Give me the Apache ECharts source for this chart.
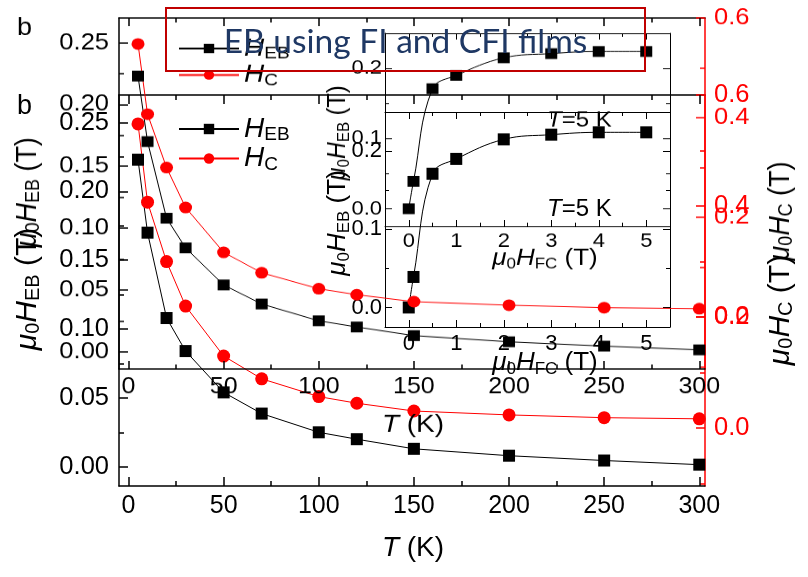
<!DOCTYPE html>
<html>
<head>
<meta charset="utf-8">
<script src="https://cdn.jsdelivr.net/npm/echarts@6/dist/echarts.min.js"></script>
<style>
  html, body { margin: 0; padding: 0; background: #ffffff; }
  #stage { position: relative; width: 808px; height: 577px; overflow: hidden; background: #ffffff; }
  .panel { position: absolute; left: 0; top: 0; width: 808px; height: 577px; }
  /* second copy of the panel, squeezed vertically into the upper part of the slide */
  #panelTop { transform-origin: 0 0; transform: translateY(-67.3px) scaleY(0.8977); }
  #slideTitle {
    position: absolute; left: 165px; top: 7px; width: 481px; height: 65px;
    box-sizing: border-box; border: 2px solid #c00000;
    display: flex; align-items: center; justify-content: center;
    font-family: Lato, 'Open Sans', sans-serif; font-size: 33.5px; color: #1f3864;
    white-space: nowrap;
  }
</style>
</head>
<body>
<div id="stage">
  <div id="panelBottom" class="panel"></div>
  <div id="panelTop" class="panel"></div>
  <div id="slideTitle">EB using FI and CFI films</div>
</div>
<script>
// Exchange bias field and coercivity versus temperature
const tempK   = [5, 10, 20, 30, 50, 70, 100, 120, 150, 200, 250, 300];
const hEB     = [0.223, 0.170, 0.108, 0.084, 0.054, 0.0386, 0.025, 0.020, 0.013, 0.008, 0.0045, 0.0015];
const hC      = [0.548, 0.407, 0.300, 0.220, 0.130, 0.089, 0.057, 0.045, 0.031, 0.024, 0.019, 0.017];

// Inset: exchange bias versus cooling field at T = 5 K
const fieldFC   = [0, 0.1, 0.5, 1, 2, 3, 4, 5];
const hEBField  = [0.0, 0.039, 0.171, 0.190, 0.215, 0.221, 0.224, 0.224];

// Tick values
const tempTicks   = [0, 50, 100, 150, 200, 250, 300];
const tempMinor   = [25, 75, 125, 175, 225, 275];
const hebTicks    = [0, 0.05, 0.10, 0.15, 0.20, 0.25];
const hebMinor    = [0.025, 0.075, 0.125, 0.175, 0.225];
const hcTicks     = [0, 0.2, 0.4, 0.6];
const hcMinor     = [-0.1, 0.1, 0.3, 0.5];
const fieldTicks  = [0, 1, 2, 3, 4, 5];
const fieldMinor  = [0.5, 1.5, 2.5, 3.5, 4.5];
const insetTicks  = [0, 0.1, 0.2];
const insetMinor  = [0.05, 0.15];

// Axis titles (rich text markup)
const titleTemp     = '{i|T}{n| (K)}';
const titleHEB      = '{i|μ}{s|0}{i|H}{s|EB}{n| (T)}';
const titleHC       = '{i|μ}{s|0}{i|H}{s|C}{n| (T)}';
const titleField    = '{i|μ}{s|0}{i|H}{s|FC}{n| (T)}';

const FONT = "'Liberation Sans', Arial, sans-serif";
const RED = '#ff0000';

// main glyphs set the line box; subscripts sit at its bottom edge
function richLabel(size, subSize, lineH) {
  return {
    i: { fontStyle: 'italic', fontSize: size, fontFamily: FONT, lineHeight: lineH, fill: '#000', color: '#000' },
    n: { fontSize: size, fontFamily: FONT, lineHeight: lineH, fill: '#000', color: '#000' },
    s: { fontSize: subSize, fontFamily: FONT, lineHeight: 10, verticalAlign: 'bottom', fill: '#000', color: '#000' }
  };
}

function tickAxis(o) {
  const color = o.color || '#000';
  const lw = o.lw || 1.5;
  return {
    type: 'value', gridIndex: o.grid, position: o.pos, min: o.min, max: o.max,
    axisLine: { show: !!o.line, onZero: false, lineStyle: { color: color, width: lw } },
    axisTick: { show: true, inside: true, length: o.len, customValues: o.ticks,
                lineStyle: { color: color, width: lw } },
    axisLabel: o.label
      ? Object.assign({ customValues: o.ticks, color: color, fontFamily: FONT }, o.label)
      : { show: false },
    splitLine: { show: false },
    axisPointer: { show: false }
  };
}

function axisTitle(text, x, y, size, subSize, vertical) {
  return {
    type: 'text', x: x, y: y, rotation: vertical ? Math.PI / 2 : 0, silent: true,
    style: { text: text, align: 'center', verticalAlign: 'middle',
             rich: richLabel(size, subSize, 30), fill: '#000' }
  };
}

function buildOption() {
  const xAxes = [];
  const yAxes = [];
  const add = (list, cfg) => { list.push(cfg); return list.length - 1; };

  // main panel (grid 0)
  const xMain = add(xAxes, tickAxis({
    grid: 0, pos: 'bottom', min: -5, max: 303, ticks: tempTicks, len: 9, line: true,
    label: { fontSize: 25, margin: 8, formatter: v => String(v) }
  }));
  add(xAxes, tickAxis({ grid: 0, pos: 'bottom', min: -5, max: 303, ticks: tempMinor, len: 5 }));
  add(xAxes, tickAxis({ grid: 0, pos: 'top', min: -5, max: 303, ticks: tempTicks, len: 9, line: true }));
  add(xAxes, tickAxis({ grid: 0, pos: 'top', min: -5, max: 303, ticks: tempMinor, len: 5 }));

  const yLeft = add(yAxes, tickAxis({
    grid: 0, pos: 'left', min: -0.014, max: 0.27, ticks: hebTicks, len: 9, line: true,
    label: { fontSize: 25.5, margin: 10, formatter: v => v.toFixed(2) }
  }));
  add(yAxes, tickAxis({ grid: 0, pos: 'left', min: -0.014, max: 0.27, ticks: hebMinor, len: 5 }));

  const yRight = add(yAxes, tickAxis({
    grid: 0, pos: 'right', min: -0.104, max: 0.6, ticks: hcTicks, len: 9, line: true, color: RED,
    label: { fontSize: 25.5, margin: 9, formatter: v => v.toFixed(1) }
  }));
  add(yAxes, tickAxis({ grid: 0, pos: 'right', min: -0.104, max: 0.6, ticks: hcMinor, len: 5, color: RED }));

  // inset panel (grid 1)
  const xInset = add(xAxes, tickAxis({
    grid: 1, pos: 'bottom', min: -0.5, max: 5.5, ticks: fieldTicks, len: 7, line: true, lw: 1,
    label: { fontSize: 22, margin: 6, formatter: v => String(v) }
  }));
  add(xAxes, tickAxis({ grid: 1, pos: 'bottom', min: -0.5, max: 5.5, ticks: fieldMinor, len: 4, lw: 1 }));
  add(xAxes, tickAxis({ grid: 1, pos: 'top', min: -0.5, max: 5.5, ticks: fieldTicks, len: 7, line: true, lw: 1 }));
  add(xAxes, tickAxis({ grid: 1, pos: 'top', min: -0.5, max: 5.5, ticks: fieldMinor, len: 4, lw: 1 }));

  const yInset = add(yAxes, tickAxis({
    grid: 1, pos: 'left', min: -0.025, max: 0.25, ticks: insetTicks, len: 7, line: true, lw: 1,
    label: { fontSize: 22, margin: 3, formatter: v => v.toFixed(1) }
  }));
  add(yAxes, tickAxis({ grid: 1, pos: 'left', min: -0.025, max: 0.25, ticks: insetMinor, len: 4, lw: 1 }));
  add(yAxes, tickAxis({ grid: 1, pos: 'right', min: -0.025, max: 0.25, ticks: insetTicks, len: 7, line: true, lw: 1 }));
  add(yAxes, tickAxis({ grid: 1, pos: 'right', min: -0.025, max: 0.25, ticks: insetMinor, len: 4, lw: 1 }));

  return {
    animation: false,
    backgroundColor: 'transparent',
    grid: [
      { left: 119, top: 95, width: 586, height: 391, outerBoundsMode: 'none', containLabel: false },
      { left: 385, top: 112, width: 285, height: 215, outerBoundsMode: 'none', containLabel: false }
    ],
    xAxis: xAxes,
    yAxis: yAxes,
    legend: {
      orient: 'vertical', left: 173, top: 110, itemWidth: 60, itemHeight: 13, itemGap: 0,
      data: ['HEB', 'HC'],
      formatter: n => n === 'HEB' ? '{i|H}{s|EB}' : '{i|H}{s|C}',
      textStyle: { color: '#000', rich: richLabel(28, 19, 31) }
    },
    graphic: [
      { type: 'text', left: 17, top: 93, style: { text: 'b', fontSize: 27, fontFamily: FONT, fill: '#000' } },
      { type: 'text', left: 547, top: 197,
        style: { text: '{i|T}{n|=5 K}', fill: '#000',
                 rich: { i: { fontStyle: 'italic', fontSize: 24, fontFamily: FONT },
                         n: { fontSize: 24, fontFamily: FONT } } } },
      axisTitle(titleTemp, 413, 548, 28, 19, false),
      axisTitle(titleHEB, 28, 289, 30, 20, true),
      axisTitle(titleHC, 781, 310, 30, 20, true),
      axisTitle(titleField, 545, 363, 26, 17, false),
      axisTitle(titleHEB, 338, 223, 26, 17, true)
    ],
    series: [
      { type: 'line', name: 'HEB', xAxisIndex: xMain, yAxisIndex: yLeft,
        data: tempK.map((t, i) => [t, hEB[i]]),
        symbol: 'rect', symbolSize: 12, lineStyle: { color: '#000', width: 1 },
        itemStyle: { color: '#000' }, z: 3 },
      { type: 'line', name: 'HC', xAxisIndex: xMain, yAxisIndex: yRight,
        data: tempK.map((t, i) => [t, hC[i]]),
        symbol: 'circle', symbolSize: 13, lineStyle: { color: RED, width: 1 },
        itemStyle: { color: RED }, z: 3 },
      { type: 'line', name: 'inset', xAxisIndex: xInset, yAxisIndex: yInset,
        data: fieldFC.map((h, i) => [h, hEBField[i]]),
        smooth: 0.4, symbol: 'rect', symbolSize: 12,
        lineStyle: { color: '#000', width: 1 }, itemStyle: { color: '#000' }, z: 4 }
    ]
  };
}

['panelBottom', 'panelTop'].forEach(id => {
  const chart = echarts.init(document.getElementById(id), null, { renderer: 'canvas', width: 808, height: 577 });
  chart.setOption(buildOption());
});
</script>
</body>
</html>
